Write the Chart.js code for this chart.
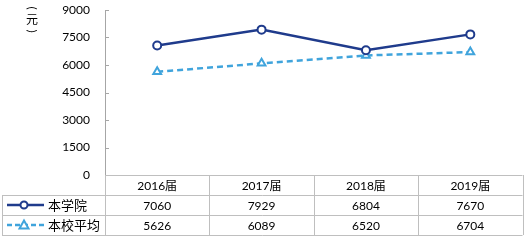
<!DOCTYPE html>
<html>
<head>
<meta charset="utf-8">
<script src="https://cdn.jsdelivr.net/npm/chart.js@4"></script>
<style>
  html, body { margin: 0; padding: 0; background: #fff; }
  #wrap { width: 529px; height: 240px; position: relative; }
</style>
</head>
<body>
<div id="wrap"><canvas id="c"></canvas></div>
<script>
const categories = ['2016届', '2017届', '2018届', '2019届'];
const collegeLabel = '本学院';
const collegeValues = [7060, 7929, 6804, 7670];
const schoolLabel = '本校平均';
const schoolValues = [5626, 6089, 6520, 6704];
const unitText = '元';

const DARK = '#1f3b8c';
const LIGHT = '#40a4dc';
const FONT = "Lato, 'Noto Sans CJK SC', sans-serif";

// draws the data table under the plot, the inside tick marks and the unit label
const tablePlugin = {
  id: 'table',
  afterDraw(chart) {
    const ctx = chart.ctx;
    const x = chart.scales.x, y = chart.scales.y;
    const left = chart.chartArea.left, right = chart.chartArea.right;
    const top = chart.chartArea.bottom;
    const rowH = 20;
    const colW = (right - left) / categories.length;
    ctx.save();

    // inside tick marks on y axis
    ctx.strokeStyle = '#a6a6a6';
    ctx.lineWidth = 1;
    y.ticks.forEach(t => {
      const py = Math.round(y.getPixelForValue(t.value)) + 0.5;
      ctx.beginPath(); ctx.moveTo(left, py); ctx.lineTo(left + 4, py); ctx.stroke();
    });

    // table grid
    ctx.strokeStyle = '#bfbfbf';
    const hl = (x0, x1, yy) => { ctx.beginPath(); ctx.moveTo(x0, yy + 0.5); ctx.lineTo(x1, yy + 0.5); ctx.stroke(); };
    const vl = (xx, y0, y1) => { ctx.beginPath(); ctx.moveTo(xx + 0.5, y0); ctx.lineTo(xx + 0.5, y1); ctx.stroke(); };
    hl(left, right, top);
    hl(2, right, top + rowH);
    hl(2, right, top + rowH * 2);
    hl(2, right, top + rowH * 3);
    vl(2, top + rowH, top + rowH * 3);
    for (let i = 0; i <= categories.length; i++) {
      vl(Math.round(left + colW * i), top, top + rowH * 3);
    }

    // text
    ctx.fillStyle = '#000';
    ctx.textAlign = 'center';
    ctx.textBaseline = 'middle';
    ctx.font = '12px ' + FONT;
    categories.forEach((c, i) => {
      const cx = x.getPixelForValue(i);
      ctx.fillText(c, cx, top + rowH * 0.5 + 1);
      ctx.fillText(String(collegeValues[i]), cx, top + rowH * 1.5 + 1);
      ctx.fillText(String(schoolValues[i]), cx, top + rowH * 2.5 + 1);
    });

    // legend keys
    const r1 = top + rowH * 1.5, r2 = top + rowH * 2.5;
    ctx.lineWidth = 2.5;
    ctx.strokeStyle = DARK;
    ctx.beginPath(); ctx.moveTo(7, r1); ctx.lineTo(44, r1); ctx.stroke();
    ctx.fillStyle = '#fff';
    ctx.lineWidth = 2;
    ctx.beginPath(); ctx.arc(24, r1, 3.5, 0, Math.PI * 2); ctx.fill(); ctx.stroke();

    ctx.strokeStyle = LIGHT;
    ctx.lineWidth = 2.5;
    ctx.setLineDash([5, 3]);
    ctx.beginPath(); ctx.moveTo(7, r2); ctx.lineTo(44, r2); ctx.stroke();
    ctx.setLineDash([]);
    ctx.lineWidth = 2;
    ctx.beginPath();
    ctx.moveTo(24, r2 - 4.5); ctx.lineTo(28.5, r2 + 3.5); ctx.lineTo(19.5, r2 + 3.5); ctx.closePath();
    ctx.fill(); ctx.stroke();

    ctx.fillStyle = '#000';
    ctx.textAlign = 'left';
    ctx.font = '13px ' + FONT;
    ctx.fillText(collegeLabel, 48, r1 + 1);
    ctx.fillText(schoolLabel, 48, r2 + 1);

    // unit label, vertical: rotated brackets around the character
    ctx.textAlign = 'center';
    ctx.font = '12px ' + FONT;
    ctx.fillText(unitText, 32, 20);
    [['(', 8], [')', 31]].forEach(([s, py]) => {
      ctx.save();
      ctx.translate(32, py);
      ctx.rotate(Math.PI / 2);
      ctx.fillText(s, 0, 0);
      ctx.restore();
    });
    ctx.restore();
  }
};

new Chart(document.getElementById('c'), {
  type: 'line',
  data: {
    labels: categories,
    datasets: [
      {
        label: collegeLabel, data: collegeValues,
        borderColor: DARK, borderWidth: 2.5, tension: 0,
        pointRadius: 4, pointBorderWidth: 2, pointBackgroundColor: '#fff', pointBorderColor: DARK
      },
      {
        label: schoolLabel, data: schoolValues,
        borderColor: LIGHT, borderWidth: 2.5, borderDash: [6, 4], tension: 0,
        pointStyle: 'triangle', pointRadius: 4.5, pointBorderWidth: 2,
        pointBackgroundColor: '#fff', pointBorderColor: LIGHT
      }
    ]
  },
  options: {
    responsive: true,
    maintainAspectRatio: false,
    animation: false,
    layout: { padding: { top: 10, right: 4, bottom: 65, left: 0 } },
    plugins: { legend: { display: false }, tooltip: { enabled: false } },
    scales: {
      x: { display: false, offset: true },
      y: {
        min: 0, max: 9000,
        ticks: { stepSize: 1500, color: '#000', padding: 15, font: { size: 12, family: FONT }, callback: v => String(v) },
        grid: { display: false, drawTicks: false },
        border: { display: true, color: '#a6a6a6', width: 1 },
        afterFit: s => { s.width = 105; s.paddingTop = 0; s.paddingBottom = 0; }
      }
    }
  },
  plugins: [tablePlugin]
});
</script>
</body>
</html>
